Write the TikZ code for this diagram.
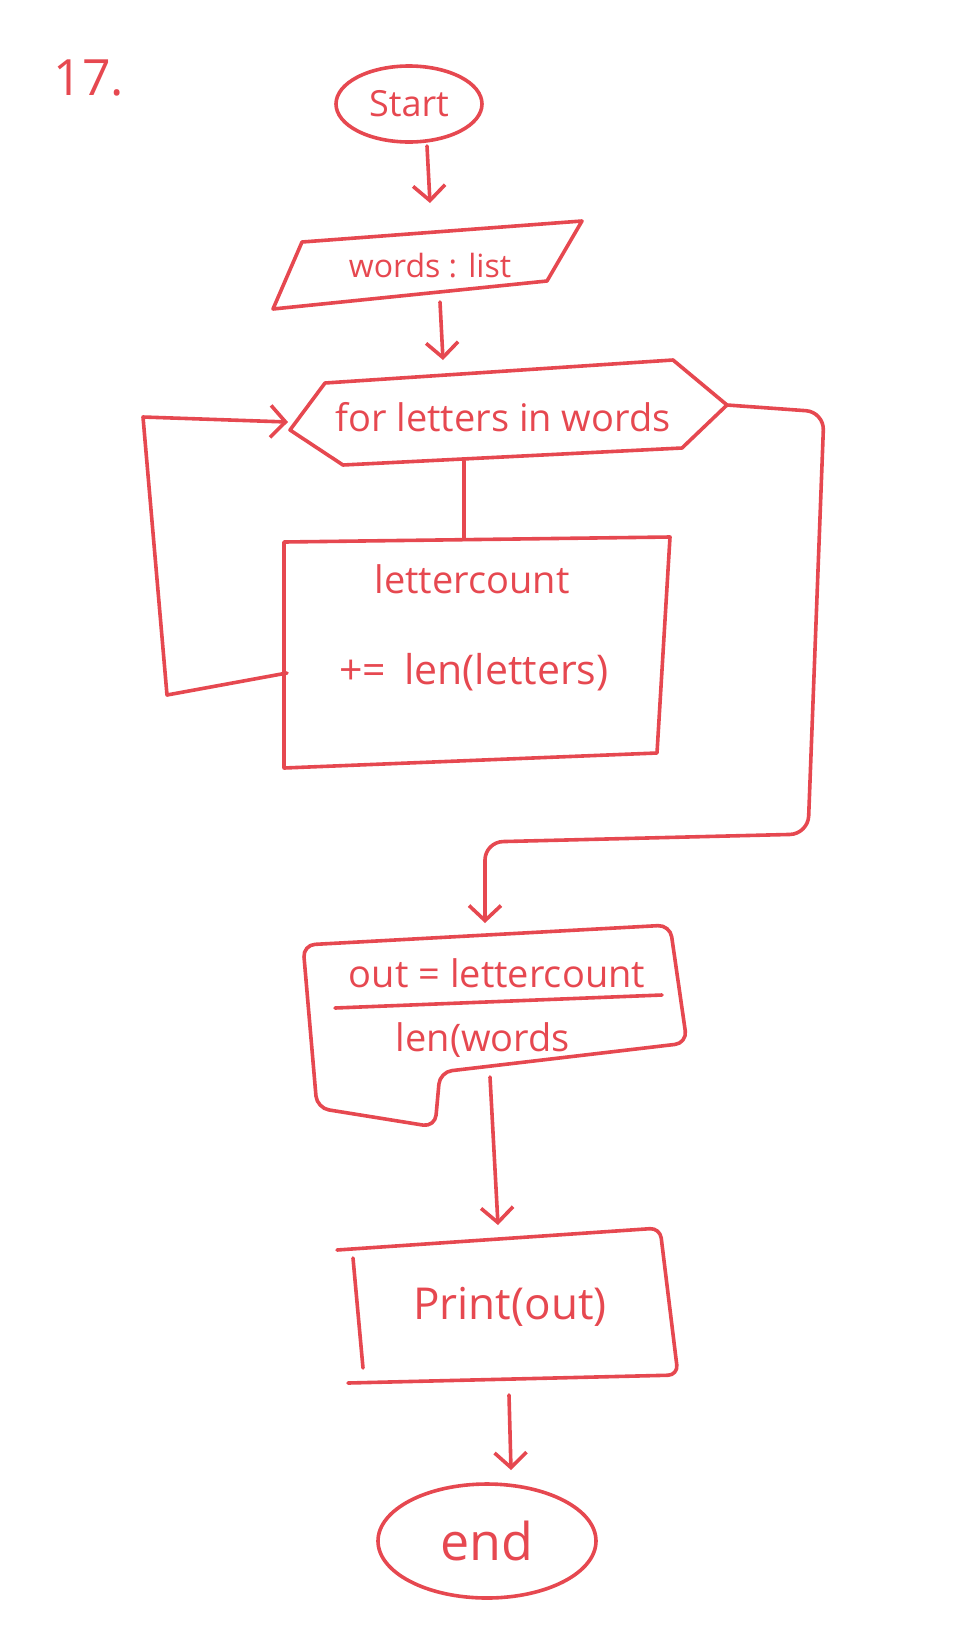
\documentclass[tikz,border=0pt]{standalone}
\usepackage{fontspec}
\setmainfont{Open Sans}
\usetikzlibrary{shapes.geometric,arrows.meta}
\definecolor{pen}{RGB}{230,72,80}
\begin{document}
\begin{tikzpicture}[x=1pt,y=-1pt,
  penline/.style={draw=pen, line width=3.6pt, line join=round, line cap=round},
  arr/.style={penline, -{Straight Barb[length=15pt,width=32pt,line width=3.6pt]}},
  lbl/.style={text=pen, inner sep=0pt, font=\fontsize{38}{44}\selectfont}]
\useasboundingbox (0,0) rectangle (956,1634);

% label
\node[lbl, font=\fontsize{50}{56}\selectfont] (num) at (89,78) {17.};

% start
\node[penline, ellipse, minimum width=146pt, minimum height=76pt, lbl, font=\fontsize{36}{40}\selectfont] (start) at (409,104) {Start};

% input parallelogram
\draw[penline] (302,242) -- (582,221) -- (547,281) -- (273,309) -- cycle;
\node[lbl, font=\fontsize{32}{38}\selectfont] (inp) at (430,266) {words : list};

% loop hexagon
\draw[penline] (290,430) -- (325,383) -- (673,360) -- (727,405) -- (682,448) -- (343,465) -- cycle;
\node[lbl] (loop) at (503,417) {for letters in words};

% process box
\draw[penline] (284,542) -- (670,537) -- (657,753) -- (284,768) -- cycle;
\node[lbl] (p1) at (472,579) {lettercount};
\node[lbl, font=\fontsize{41}{46}\selectfont] (p2) at (474,672) {+=\hspace{18pt}len(letters)};

% document shape
\draw[penline, rounded corners=12pt] (303,945) -- (670,925) -- (687,1043) -- (440,1072) -- (435,1127) -- (317,1108) -- cycle;
\node[lbl] (d1) at (497,973) {out = lettercount};
\draw[penline] (335,1008) -- (662,995);
\node[lbl] (d2) at (483,1040) {len(words};

% print box
\draw[penline, rounded corners=10pt] (337,1250) -- (660,1228) -- (678,1375) -- (348,1383);
\draw[penline] (353,1258) -- (363,1368);
\node[lbl, font=\fontsize{44}{50}\selectfont] (pr) at (510,1307) {Print(out)};

% end
\node[penline, ellipse, minimum width=218pt, minimum height=114pt, lbl, font=\fontsize{52}{58}\selectfont] (endn) at (487,1541) {end};

% connector coordinates
\coordinate (a1s) at (427,146);
\coordinate (a1e) at (430,203);
\coordinate (a2s) at (440,302);
\coordinate (a2e) at (443,360);
\coordinate (hexB) at (464,461);
\coordinate (boxT) at (464,539);
\coordinate (boxL) at (287,673);
\coordinate (hexIn) at (288,422);
\coordinate (hexR) at (727,405);
\coordinate (docIn) at (485,923);
\coordinate (docOut) at (490,1077);
\coordinate (prIn) at (498,1225);
\coordinate (prOut) at (509,1395);
\coordinate (endIn) at (511,1470);

% connectors
\draw[arr] (a1s) -- (a1e);
\draw[arr] (a2s) -- (a2e);
\draw[penline] (hexB) -- (boxT);
\draw[arr] (boxL) -- (167,695) -- (143,417) -- (hexIn);
\draw[arr, rounded corners=18pt] (hexR) -- (824,412) -- (808,834) -- (485,842) -- (docIn);
\draw[arr] (docOut) -- (prIn);
\draw[arr] (prOut) -- (endIn);
\end{tikzpicture}
\end{document}
